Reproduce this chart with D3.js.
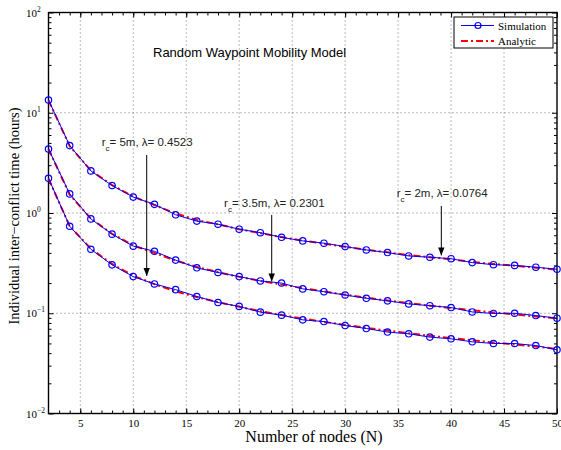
<!DOCTYPE html>
<html><head><meta charset="utf-8">
<script src="https://cdn.jsdelivr.net/npm/d3@7/dist/d3.min.js"></script>
<style>body{margin:0;background:#fff}svg{display:block}</style>
</head><body>
<svg id="c" width="561" height="450"></svg>
<script>
const nodes = [2,4,6,8,10,12,14,16,18,20,22,24,26,28,30,32,34,36,38,40,42,44,46,48,50];
const simRc5  = [13.4,4.7,2.63,1.88,1.44,1.22,0.96,0.83,0.773,0.689,0.636,0.572,0.527,0.50,0.462,0.428,0.403,0.373,0.362,0.35,0.32,0.305,0.30,0.288,0.275];
const simRc35 = [4.35,1.55,0.873,0.615,0.467,0.415,0.339,0.284,0.255,0.232,0.210,0.200,0.175,0.164,0.152,0.141,0.133,0.124,0.119,0.114,0.103,0.0995,0.100,0.0948,0.0893];
const simRc2  = [2.22,0.738,0.435,0.304,0.232,0.196,0.172,0.147,0.128,0.117,0.1026,0.0957,0.0859,0.0826,0.0754,0.0704,0.0649,0.0624,0.0578,0.0556,0.0519,0.0499,0.0499,0.0476,0.0432];
const anaRc5  = [13.3,4.65,2.65,1.9,1.46,1.2,0.99,0.85,0.77,0.69,0.63,0.575,0.53,0.495,0.46,0.43,0.405,0.38,0.362,0.345,0.325,0.31,0.298,0.285,0.272];
const anaRc35 = [4.35,1.52,0.88,0.62,0.475,0.40,0.335,0.29,0.257,0.231,0.21,0.193,0.178,0.165,0.153,0.143,0.134,0.126,0.119,0.113,0.107,0.102,0.0975,0.093,0.089];
const anaRc2  = [2.2,0.74,0.44,0.31,0.237,0.195,0.165,0.145,0.129,0.116,0.105,0.096,0.0885,0.082,0.0765,0.0715,0.0672,0.0632,0.0597,0.0565,0.0537,0.0511,0.0488,0.0466,0.044];
const xTicks = [5,10,15,20,25,30,35,40,45,50];
const yTicks = [0.01,0.1,1,10,100];
const yExps = ["−2","−1","0","1","2"];
const annotations = [
  {label:"= 5m, λ= 0.4523", tx:7.02, ty:4.61, ax:11.27, y1:3.79, y2:0.2355},
  {label:"= 3.5m, λ= 0.2301", tx:18.57, ty:1.14, ax:23.07, y1:0.955, y2:0.2075},
  {label:"= 2m, λ= 0.0764", tx:34.87, ty:1.455, ax:39.08, y1:1.175, y2:0.377}
];

const svg = d3.select("#c");
const L=48.5, R=557, T=12.5, B=413.5;
const x = d3.scaleLinear().domain([2,50]).range([L,R]);
const y = d3.scaleLog().domain([0.01,100]).range([B,T]);
const serif = "'Liberation Serif','Times New Roman',serif";
const sans = "'Liberation Sans',Arial,Helvetica,sans-serif";

// grid
const grid = svg.append("g").attr("stroke","#555").attr("stroke-width",0.8).attr("stroke-dasharray","1,3");
xTicks.filter(t=>t<50).forEach(t=>grid.append("line").attr("x1",x(t)).attr("x2",x(t)).attr("y1",T).attr("y2",B));
yTicks.filter(t=>t>0.01&&t<100).forEach(t=>grid.append("line").attr("x1",L).attr("x2",R).attr("y1",y(t)).attr("y2",y(t)));

// axes (inward ticks)
const minorX = d3.range(3,50);
svg.append("g").attr("transform",`translate(0,${B})`)
  .call(d3.axisBottom(x).tickValues(minorX).tickSize(-3).tickFormat(""));
const axB2 = svg.append("g").attr("transform",`translate(0,${B})`)
  .call(d3.axisBottom(x).tickValues(xTicks).tickSize(-5).tickPadding(6).tickFormat(d3.format("d")));
svg.append("g").attr("transform",`translate(0,${T})`)
  .call(d3.axisTop(x).tickValues(minorX).tickSize(-3).tickFormat(""));
svg.append("g").attr("transform",`translate(0,${T})`)
  .call(d3.axisTop(x).tickValues(xTicks).tickSize(-5).tickFormat(""));
const minorY = [];
[0.01,0.1,1,10].forEach(d=>{for(let k=2;k<=9;k++) minorY.push(d*k);});
svg.append("g").attr("transform",`translate(${L},0)`)
  .call(d3.axisLeft(y).tickValues(minorY).tickSize(-3).tickFormat(""));
svg.append("g").attr("transform",`translate(${L},0)`)
  .call(d3.axisLeft(y).tickValues(yTicks).tickSize(-5).tickFormat(""));
svg.append("g").attr("transform",`translate(${R},0)`)
  .call(d3.axisRight(y).tickValues(minorY).tickSize(-3).tickFormat(""));
svg.append("g").attr("transform",`translate(${R},0)`)
  .call(d3.axisRight(y).tickValues(yTicks).tickSize(-5).tickFormat(""));
svg.selectAll(".domain").remove();
svg.selectAll(".tick line").attr("stroke","#000").attr("stroke-width",1);
axB2.selectAll("text").attr("font-family",serif).attr("font-size","11px").attr("fill","#000");

// frame
svg.append("rect").attr("x",L).attr("y",T).attr("width",R-L).attr("height",B-T)
  .attr("fill","none").attr("stroke","#000").attr("stroke-width",1.4);

// y tick labels 10^k
yTicks.forEach((t,i)=>{
  const tx = svg.append("text").attr("x",26).attr("y",y(t)+4)
    .attr("font-family",serif).attr("font-size","11px").attr("fill","#000");
  tx.append("tspan").text("10");
  tx.append("tspan").attr("font-size","7.5px").attr("dy",-5).text(yExps[i]);
});

// series
const line = d3.line().x((d,i)=>x(nodes[i])).y(d=>y(d));
const sims=[simRc5,simRc35,simRc2], anas=[anaRc5,anaRc35,anaRc2];
anas.forEach(a=>svg.append("path").attr("d",line(a)).attr("fill","none")
  .attr("stroke","#ff0000").attr("stroke-width",2).attr("stroke-dasharray","7,3,2,3"));
sims.forEach(s=>{
  svg.append("path").attr("d",line(s)).attr("fill","none").attr("stroke","#0000ff").attr("stroke-width",1);
  svg.append("g").selectAll("circle").data(s).join("circle")
    .attr("cx",(d,i)=>x(nodes[i])).attr("cy",d=>y(d)).attr("r",3.2)
    .attr("fill","none").attr("stroke","#0000ff").attr("stroke-width",1.2);
});

// annotations
svg.append("defs").append("marker").attr("id","ah").attr("viewBox","0 0 10 10")
  .attr("refX",10).attr("refY",5).attr("markerWidth",8).attr("markerHeight",8)
  .attr("markerUnits","userSpaceOnUse").attr("orient","auto")
  .append("path").attr("d","M0,1 L10,5 L0,9 Z").attr("fill","#000");
annotations.forEach(a=>{
  const t = svg.append("text").attr("x",x(a.tx)).attr("y",y(a.ty))
    .attr("font-family",sans).attr("font-size","11.5px").attr("fill","#222");
  t.append("tspan").text("r");
  t.append("tspan").attr("font-size","8px").attr("dy",5).text("c");
  t.append("tspan").attr("dy",-5).text(a.label);
  svg.append("line").attr("x1",x(a.ax)).attr("x2",x(a.ax)).attr("y1",y(a.y1)).attr("y2",y(a.y2))
    .attr("stroke","#000").attr("stroke-width",1).attr("marker-end","url(#ah)");
});

// title inside
svg.append("text").attr("x",153).attr("y",57).attr("font-family",sans).attr("font-size","13px")
  .attr("fill","#000").text("Random Waypoint Mobility Model");

// legend
const lg = svg.append("g");
lg.append("rect").attr("x",454).attr("y",17).attr("width",99).attr("height",31)
  .attr("fill","#fff").attr("stroke","#000").attr("stroke-width",1);
lg.append("line").attr("x1",461).attr("x2",494).attr("y1",25.5).attr("y2",25.5).attr("stroke","#0000ff").attr("stroke-width",1);
lg.append("circle").attr("cx",478).attr("cy",25.5).attr("r",3).attr("fill","none").attr("stroke","#0000ff").attr("stroke-width",1.2);
lg.append("line").attr("x1",461).attr("x2",494).attr("y1",41).attr("y2",41).attr("stroke","#ff0000").attr("stroke-width",2).attr("stroke-dasharray","7,3,2,3");
lg.append("text").attr("x",498).attr("y",29.5).attr("font-family",serif).attr("font-size","11px").text("Simulation");
lg.append("text").attr("x",498).attr("y",45).attr("font-family",serif).attr("font-size","11px").text("Analytic");

// axis labels
svg.append("text").attr("x",314).attr("y",442).attr("text-anchor","middle")
  .attr("font-family",serif).attr("font-size","16px").text("Number of nodes (N)");
svg.append("text").attr("transform","translate(18.5,216) rotate(-90)").attr("text-anchor","middle")
  .attr("font-family",serif).attr("font-size","14.5px").text("Individual inter−conflict time (hours)");
</script>
</body></html>
